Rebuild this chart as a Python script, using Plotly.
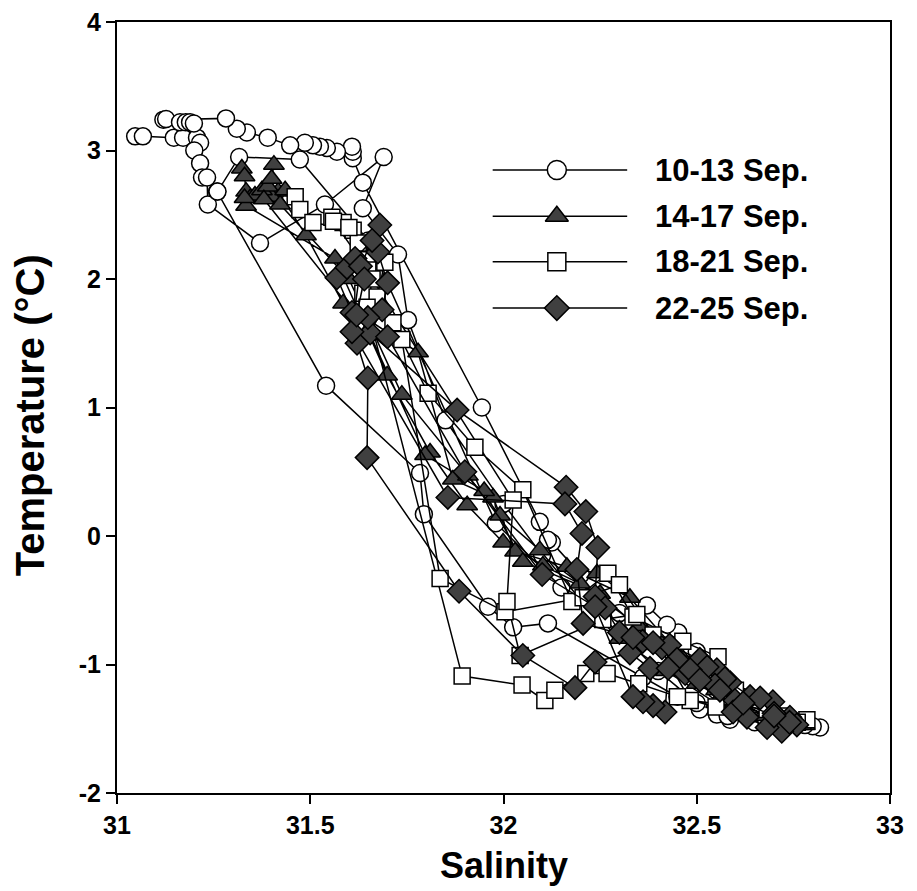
import plotly.graph_objects as go

# ---------------- data ----------------
series_names = ["10-13 Sep.", "14-17 Sep.", "18-21 Sep.", "22-25 Sep."]

sal_1013 = [31.047, 31.067, 31.147, 31.171, 31.207, 31.215, 31.200, 31.215, 31.220, 31.259, 31.541, 31.784, 31.794, 31.960, 32.025, 32.115, 32.361, 32.450, 32.508, 32.552, 32.586, 32.650, 32.720, 32.819,
            32.800, 32.700, 32.600, 32.550, 32.500, 32.452, 32.423, 32.371, 32.200, 32.125, 32.115, 32.094, 31.944, 31.636, 31.610, 31.610, 31.608, 31.569, 31.543, 31.525, 31.507, 31.486, 31.448, 31.390, 31.336, 31.310, 31.282,
            31.120, 31.127, 31.163, 31.178, 31.189, 31.199, 31.233, 31.235, 31.370, 31.538, 31.690, 31.636, 31.727, 31.753, 31.850, 32.000, 32.100, 32.300, 32.450, 32.550, 32.650, 32.750,
            32.780, 32.680, 32.580, 32.500, 32.400, 32.300, 32.150, 31.980, 31.650, 31.473, 31.316, 31.260]
temp_1013 = [3.11, 3.11, 3.10, 3.10, 3.10, 3.06, 3.00, 2.90, 2.79, 2.68, 1.17, 0.49, 0.17, -0.55, -0.71, -0.68, -1.10, -1.25, -1.35, -1.39, -1.43, -1.45, -1.47, -1.49,
             -1.48, -1.42, -1.30, -1.10, -0.90, -0.75, -0.69, -0.54, -0.30, -0.05, -0.03, 0.11, 1.00, 2.75, 2.94, 2.99, 3.03, 2.99, 3.02, 3.03, 3.04, 3.06, 3.04, 3.10, 3.14, 3.17, 3.25,
             3.24, 3.245, 3.22, 3.22, 3.22, 3.21, 2.79, 2.58, 2.28, 2.58, 2.95, 2.55, 2.19, 1.68, 0.90, 0.25, -0.15, -0.60, -0.95, -1.20, -1.38, -1.45,
             -1.47, -1.44, -1.40, -1.30, -1.05, -0.75, -0.40, 0.10, 2.30, 2.93, 2.95, 2.68]

sal_1417 = [31.323, 31.330, 31.334, 31.345, 31.357, 31.334, 31.564, 31.699, 31.810, 31.906, 31.999, 32.102, 32.198, 32.350, 32.500, 32.600, 32.700, 32.780,
            32.750, 32.680, 32.550, 32.450, 32.327, 32.242, 32.164, 32.030, 31.973, 31.869, 31.779, 31.585, 31.489, 31.417, 31.400, 31.375, 31.390, 31.406, 31.400,
            31.435, 31.422, 31.600, 31.737, 31.908, 31.991, 32.094, 32.200, 32.300, 32.420, 32.550, 32.720,
            32.770, 32.620, 32.500, 32.400, 32.250, 32.050, 31.950, 31.797, 31.650, 31.380, 31.330]
temp_1417 = [2.86, 2.80, 2.68, 2.63, 2.65, 2.57, 2.16, 1.25, 0.65, 0.24, -0.05, -0.23, -0.37, -0.70, -1.05, -1.30, -1.42, -1.47,
             -1.46, -1.40, -1.20, -0.90, -0.48, -0.29, -0.24, -0.12, 0.30, 0.44, 1.43, 1.81, 2.34, 2.68, 2.64, 2.69, 2.72, 2.89, 2.78,
             2.69, 2.58, 2.00, 1.10, 0.47, 0.16, -0.11, -0.50, -0.80, -1.05, -1.30, -1.45,
             -1.47, -1.35, -1.15, -0.85, -0.45, -0.20, 0.35, 0.63, 1.60, 2.62, 2.63]

sal_1821 = [31.461, 31.473, 31.507, 31.611, 31.647, 31.636, 31.714, 31.805, 31.926, 32.050, 32.177, 32.270, 32.335, 32.464, 32.555, 32.604, 32.785,
            32.760, 32.682, 32.483, 32.387, 32.300, 32.206, 32.004, 31.836, 31.737, 31.673, 31.693, 31.624, 31.585, 31.556,
            31.560, 31.649, 31.647, 31.893, 32.048, 32.107, 32.133, 32.213, 32.268, 32.350, 32.450, 32.550, 32.700,
            32.720, 32.600, 32.500, 32.420, 32.345, 32.257, 32.043, 32.009, 32.025, 31.660, 31.600]
temp_1821 = [2.64, 2.54, 2.44, 2.38, 2.15, 1.89, 1.66, 1.11, 0.69, 0.36, -0.51, -0.29, -0.63, -0.82, -0.94, -1.25, -1.43,
             -1.45, -1.35, -1.28, -0.77, -0.38, -0.48, -0.59, -0.33, 1.53, 1.86, 2.13, 2.28, 2.44, 2.48,
             2.45, 2.07, 1.78, -1.09, -1.16, -1.28, -1.20, -1.07, -1.07, -1.15, -1.25, -1.33, -1.42,
             -1.40, -1.20, -1.00, -0.85, -0.61, -0.65, -0.93, -0.51, 0.28, 2.00, 2.40]

sal_2225 = [31.680, 31.675, 31.700, 31.686, 31.655, 31.880, 32.162, 32.213, 32.244, 32.237, 32.263, 32.300, 32.360, 32.410, 32.430, 32.508, 32.552, 32.586, 32.638, 32.697, 32.741, 32.759,
            32.720, 32.682, 32.630, 32.599, 32.573, 32.527, 32.470, 32.379, 32.327, 32.237, 32.185, 32.050, 31.885, 31.647, 31.649, 31.621, 31.649, 31.608, 31.569, 31.595, 31.616,
            31.660, 31.630, 31.608, 31.856, 32.159, 32.203, 32.190, 32.206, 32.335, 32.387, 32.449, 32.483, 32.547, 32.594, 32.664, 32.700, 32.740,
            32.700, 32.620, 32.560, 32.508, 32.426, 32.418, 32.387, 32.361, 32.335, 32.237, 32.100, 31.900, 31.700, 31.620, 31.640]
temp_2225 = [2.42, 2.21, 1.97, 1.76, 1.58, 0.98, 0.38, 0.19, -0.09, -0.47, -0.56, -0.75, -0.82, -0.87, -0.85, -0.96, -1.04, -1.14, -1.25, -1.29, -1.41, -1.47,
             -1.52, -1.49, -1.41, -1.28, -1.11, -1.02, -1.07, -1.03, -0.91, -0.98, -1.18, -0.93, -0.43, 0.61, 1.23, 1.50, 1.70, 1.74, 2.01, 2.09, 2.16,
             2.30, 2.10, 1.59, 0.30, 0.25, 0.02, -0.26, -0.68, -0.79, -0.83, -0.96, -1.04, -1.16, -1.37, -1.26, -1.38, -1.45,
             -1.40, -1.30, -1.20, -1.12, -1.03, -1.37, -1.32, -1.29, -1.25, -0.55, -0.30, 0.50, 1.55, 1.72, 2.00]

x_ticks = [31, 31.5, 32, 32.5, 33]
x_tick_labels = ["31", "31.5", "32", "32.5", "33"]
y_ticks = [-2, -1, 0, 1, 2, 3, 4]
y_tick_labels = ["-2", "-1", "0", "1", "2", "3", "4"]
x_title = "Salinity"
y_title = "Temperature (°C)"

# ---------------- style ----------------
FONT = "Arial, 'Liberation Sans', sans-serif"
DARK = "#404040"
styles = [
    dict(symbol="circle", color="white", size=17, leg=19),
    dict(symbol="triangle-up", color=DARK, size=18, leg=20),
    dict(symbol="square", color="white", size=16, leg=18),
    dict(symbol="diamond", color=DARK, size=18, leg=19),
]
data = [(sal_1013, temp_1013), (sal_1417, temp_1417), (sal_1821, temp_1821), (sal_2225, temp_2225)]

fig = go.Figure()
for (sx, ty), st, name in zip(data, styles, series_names):
    fig.add_trace(go.Scatter(
        x=sx, y=ty, mode="lines+markers", name=name, showlegend=False,
        line=dict(color="black", width=1.5),
        marker=dict(symbol=st["symbol"], size=st["size"], color=st["color"], opacity=1,
                    line=dict(color="black", width=1.5)),
    ))

# manual legend on an overlay axis (0..1 coordinates of the plot area)
leg_rows = [0.808, 0.748, 0.689, 0.629]
for st, name, yy in zip(styles, series_names, leg_rows):
    fig.add_trace(go.Scatter(
        x=[0.486, 0.569, 0.660], y=[yy, yy, yy], xaxis="x2", yaxis="y2",
        mode="lines+markers", showlegend=False, hoverinfo="skip",
        line=dict(color="black", width=1.5),
        marker=dict(symbol=st["symbol"], size=[0, st["leg"], 0], color=st["color"], opacity=1,
                    line=dict(color="black", width=1.5)),
    ))
    fig.add_annotation(x=0.694, y=yy, xref="x2", yref="y2", text="<b>%s</b>" % name,
                       showarrow=False, xanchor="left", yanchor="middle",
                       font=dict(family=FONT, size=31, color="black"))

# axis titles
fig.add_annotation(x=0.5, y=-0.094, xref="paper", yref="paper", text="<b>%s</b>" % x_title,
                   showarrow=False, xanchor="center", yanchor="middle",
                   font=dict(family=FONT, size=36, color="black"))
fig.add_annotation(x=-0.1125, y=0.49, xref="paper", yref="paper", text="<b>%s</b>" % y_title,
                   showarrow=False, xanchor="center", yanchor="middle", textangle=-90,
                   font=dict(family=FONT, size=40, color="black"))

axis_common = dict(showgrid=False, zeroline=False, showline=True, linecolor="black", linewidth=2,
                   mirror=True, ticks="outside", ticklen=9, tickwidth=2, tickcolor="black",
                   automargin=False, ticklabeloverflow="allow",
                   tickfont=dict(family=FONT, size=25, color="black"))

# the page body adds an 8px offset, so the figure is 8px smaller than the window
fig.update_layout(
    width=909, height=883,
    margin=dict(l=109, r=27, t=14, b=98, autoexpand=False),
    paper_bgcolor="white", plot_bgcolor="white",
    showlegend=False,
    xaxis=dict(range=[31, 33], tickvals=x_ticks, ticktext=["<b>%s</b>" % t for t in x_tick_labels],
               **axis_common),
    yaxis=dict(range=[-2, 4], tickvals=y_ticks, ticktext=["<b>%s</b>" % t for t in y_tick_labels],
               **axis_common),
    xaxis2=dict(range=[0, 1], overlaying="x", visible=False, fixedrange=True, automargin=False),
    yaxis2=dict(range=[0, 1], overlaying="y", visible=False, fixedrange=True, automargin=False),
)

fig.write_html("out.html")
